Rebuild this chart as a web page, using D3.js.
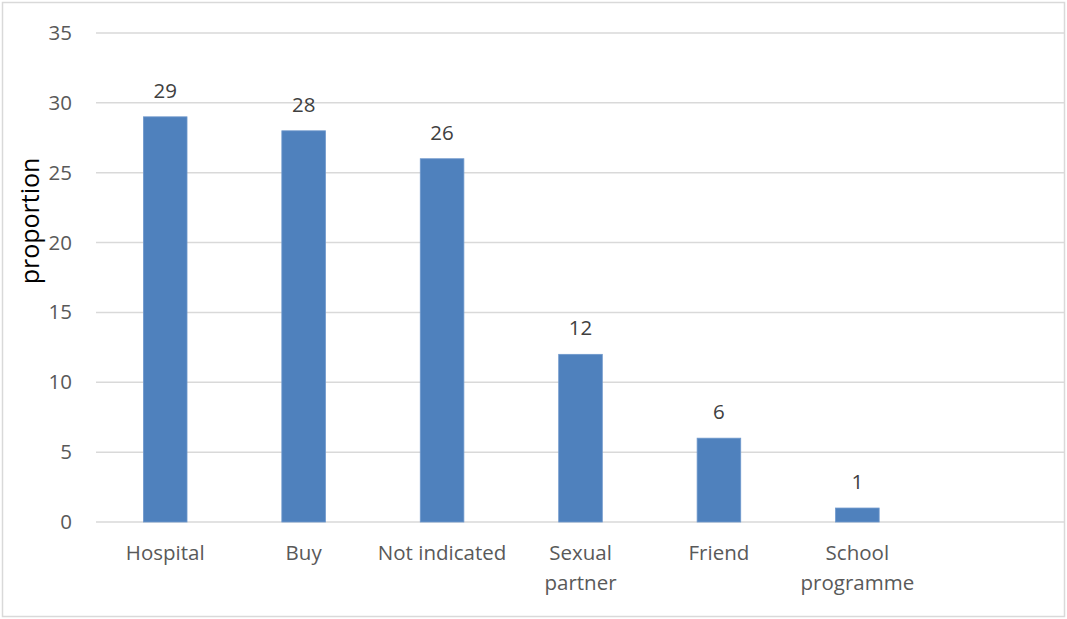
<!DOCTYPE html>
<html>
<head>
<meta charset="utf-8">
<script src="https://cdn.jsdelivr.net/npm/d3@7"></script>
<style>
  html, body { margin: 0; padding: 0; background: #fff; }
  svg { display: block; font-family: "Open Sans", "Liberation Sans", sans-serif; }
</style>
</head>
<body>
<svg id="chart" width="1067" height="619"></svg>
<script>
// Source of supply, percentage of respondents
const categories = ["Hospital", "Buy", "Not indicated", "Sexual partner", "Friend", "School programme", ""];
const values = [29, 28, 26, 12, 6, 1, null];
const yTicks = [0, 5, 10, 15, 20, 25, 30, 35];
const yTitle = "proportion";

const svg = d3.select("#chart");
const W = 1067, H = 619;
const margin = { left: 96, right: 2, top: 33, bottom: 97 };

// Outer chart frame
svg.append("rect")
  .attr("x", 2.5).attr("y", 2.5)
  .attr("width", W - 5).attr("height", H - 5)
  .attr("fill", "#fff").attr("stroke", "#d9d9d9").attr("stroke-width", 1.5);

const x = d3.scaleBand()
  .domain(categories.map((c, i) => i))
  .range([margin.left, W - margin.right])
  .paddingInner(0.685).paddingOuter(0.3425);

const y = d3.scaleLinear().domain([0, 35]).range([H - margin.bottom, margin.top]);

// Horizontal gridlines
svg.append("g").selectAll("line").data(yTicks).join("line")
  .attr("x1", margin.left).attr("x2", W - margin.right)
  .attr("y1", d => y(d)).attr("y2", d => y(d))
  .attr("stroke", "#d9d9d9").attr("stroke-width", 1.5);

// Y axis tick labels
const yAxis = d3.axisLeft(y).tickValues(yTicks).tickSize(0).tickPadding(24);
const gy = svg.append("g").attr("transform", `translate(${margin.left},0)`).call(yAxis);
gy.select(".domain").remove();
gy.selectAll("text").attr("fill", "#595959").attr("font-size", 20.5)
  .attr("font-family", "\"Open Sans\", \"Liberation Sans\", sans-serif");

// Y axis title
svg.append("text")
  .attr("transform", `translate(39, 221) rotate(-90)`)
  .attr("text-anchor", "middle")
  .attr("font-size", 25).attr("fill", "#000")
  .text(yTitle);

const data = categories.map((c, i) => ({ c, i, v: values[i] })).filter(d => d.v != null);

// Bars
svg.append("g").selectAll("rect").data(data).join("rect")
  .attr("x", d => x(d.i))
  .attr("width", x.bandwidth())
  .attr("y", d => y(d.v))
  .attr("height", d => y(0) - y(d.v))
  .attr("fill", "#4f81bd")
  .attr("stroke", "#6f98cc").attr("stroke-width", 0.8);

// Value labels
svg.append("g").selectAll("text").data(data).join("text")
  .attr("x", d => x(d.i) + x.bandwidth() / 2)
  .attr("y", d => y(d.v) - 19)
  .attr("text-anchor", "middle")
  .attr("font-size", 20.5).attr("fill", "#404040")
  .text(d => d.v);

// Category labels, wrapped to two lines where needed
const wrapped = {
  "Sexual partner": ["Sexual", "partner"],
  "School programme": ["School", "programme"]
};
const xl = svg.append("g");
categories.forEach((c, i) => {
  if (!c) return;
  const lines = wrapped[c] || [c];
  const t = xl.append("text")
    .attr("text-anchor", "middle")
    .attr("font-size", 20.5).attr("fill", "#595959");
  lines.forEach((ln, k) => {
    t.append("tspan")
      .attr("x", x(i) + x.bandwidth() / 2)
      .attr("y", y(0) + 38 + k * 30)
      .text(ln);
  });
});
</script>
</body>
</html>
